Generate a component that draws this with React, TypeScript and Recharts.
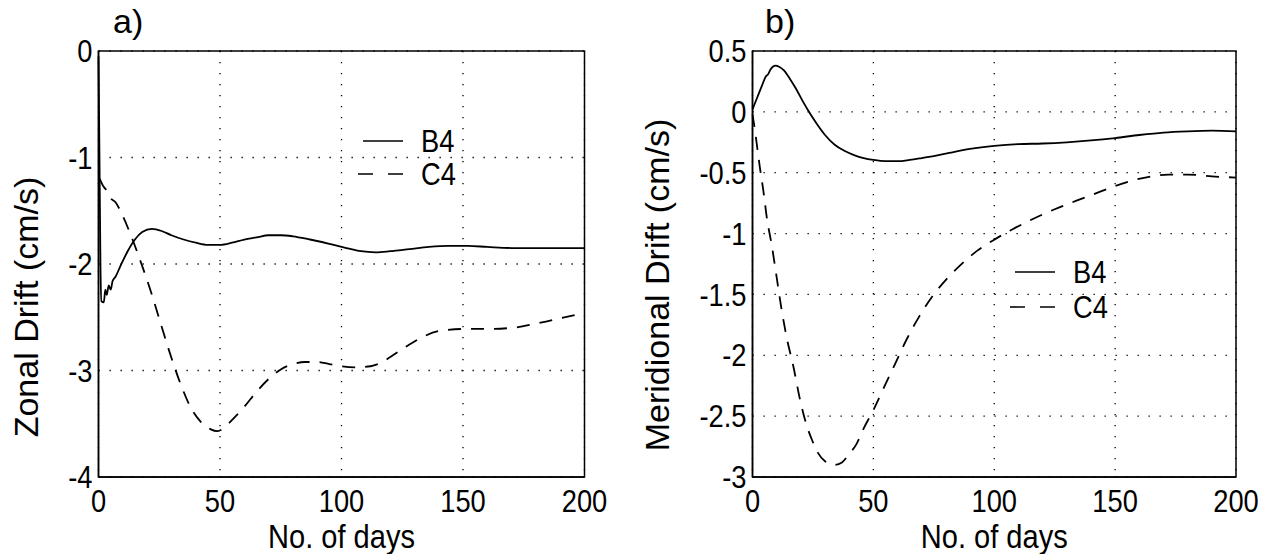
import React from "react";
import {
  CartesianGrid,
  Legend,
  Line,
  LineChart,
  ReferenceArea,
  XAxis,
  YAxis,
} from "recharts";

// panel a) zonal drift
const zonalB4Days = [0, 0.4, 0.8, 1.2, 2.2, 2.8, 3.4, 4.2, 5, 5.8, 7, 9, 12, 15, 18, 22, 26, 30, 35, 40, 45, 50, 55, 60, 65, 70, 75, 80, 87, 95, 102, 108, 114, 120, 128, 136, 144, 152, 160, 170, 180, 190, 200];
const zonalB4 = [-0.05, -1.0, -2.0, -2.35, -2.36, -2.24, -2.29, -2.2, -2.24, -2.16, -2.12, -2.02, -1.88, -1.77, -1.7, -1.67, -1.69, -1.73, -1.77, -1.8, -1.82, -1.82, -1.8, -1.77, -1.75, -1.73, -1.73, -1.74, -1.77, -1.81, -1.85, -1.88, -1.89, -1.88, -1.86, -1.84, -1.83, -1.83, -1.84, -1.85, -1.85, -1.85, -1.85];

const zonalC4Days = [0.5, 2, 4, 5, 7, 10, 14, 18, 22, 26, 30, 34, 38, 42, 46, 49, 52, 56, 60, 65, 70, 75, 80, 85, 90, 95, 100, 106, 112, 116, 121, 127, 133, 140, 150, 160, 170, 180, 190, 200];
const zonalC4 = [-1.2, -1.27, -1.33, -1.38, -1.42, -1.55, -1.77, -2.02, -2.29, -2.59, -2.88, -3.14, -3.35, -3.48, -3.55, -3.57, -3.53, -3.44, -3.34, -3.2, -3.08, -2.99, -2.94, -2.92, -2.92, -2.94, -2.96, -2.97, -2.96, -2.93, -2.86, -2.77, -2.69, -2.63, -2.61, -2.61, -2.6, -2.56, -2.51, -2.46];

// panel b) meridional drift
const meridB4Days = [0, 2, 4, 5.5, 6.5, 7.5, 9.5, 11, 13, 15.5, 18, 21, 24, 27, 30, 34, 38, 42, 46, 50, 55, 60, 65, 70, 76, 82, 90, 100, 110, 120, 130, 140, 150, 160, 170, 180, 190, 200];
const meridB4 = [0.02, 0.12, 0.22, 0.29, 0.31, 0.35, 0.38, 0.37, 0.34, 0.27, 0.19, 0.08, -0.02, -0.11, -0.19, -0.27, -0.32, -0.355, -0.38, -0.395, -0.405, -0.405, -0.395, -0.38, -0.36, -0.335, -0.305, -0.28, -0.265, -0.26, -0.25, -0.235, -0.215, -0.19, -0.17, -0.16, -0.155, -0.16];

const meridC4Days = [0, 1, 2, 3, 4.5, 6, 8, 10, 12, 14, 17, 19.5, 22, 24.5, 27, 30, 34, 37, 40, 43, 46, 50, 54, 59, 64, 69, 75, 80, 86, 93, 100, 108, 116, 125, 134, 142, 150, 158, 165, 172, 180, 190, 200];
const meridC4 = [-0.02, -0.15, -0.3, -0.45, -0.65, -0.88, -1.1, -1.36, -1.62, -1.84, -2.1, -2.35, -2.55, -2.69, -2.8, -2.87, -2.9, -2.88, -2.81, -2.73, -2.6, -2.45, -2.28, -2.07, -1.86, -1.68, -1.5, -1.38, -1.26, -1.14, -1.05, -0.96, -0.88, -0.8, -0.73, -0.67, -0.61, -0.56, -0.53, -0.515, -0.515, -0.53, -0.54];

const dayTicks = [0, 50, 100, 150, 200];
const zonalTicks = [0, -1, -2, -3, -4];
const meridTicks = [0.5, 0, -0.5, -1, -1.5, -2, -2.5, -3];

const seriesNames = ["B4", "C4"];
const c4Dash = "13 10";

const font = "'Liberation Sans', Arial, Helvetica, sans-serif";
const squeeze = 0.88; // the original type is a little narrow

const toPoints = (days: number[], vals: number[]) =>
  days.map((day, i) => ({ day, value: vals[i] }));

// text narrowed horizontally around its anchor point
function NarrowText({ x, y, anchor, dy, size, children }: any) {
  return (
    <text
      x={x}
      y={y}
      dy={dy}
      textAnchor={anchor}
      fontSize={size}
      fontFamily={font}
      fill="#000"
      transform={`translate(${x} 0) scale(${squeeze} 1) translate(${-x} 0)`}
    >
      {children}
    </text>
  );
}

const XTick = ({ x, y, payload }: any) => (
  <NarrowText x={x} y={y} anchor="middle" dy="0.71em" size={31}>
    {payload.value}
  </NarrowText>
);

const YTick = ({ x, y, payload }: any) => (
  <NarrowText x={x} y={y} anchor="end" dy="0.36em" size={31}>
    {payload.value}
  </NarrowText>
);

function DriftLegend({ gap }: { gap: number }) {
  return (
    <svg width={130} height={gap + 45}>
      {seriesNames.map((name, i) => {
        const y = 21 + i * gap;
        return (
          <g key={name}>
            <line
              x1={name === "C4" ? 3 : 8}
              x2={48}
              y1={y}
              y2={y}
              stroke="#000"
              strokeWidth={1.6}
              strokeDasharray={name === "C4" ? "15 15" : undefined}
            />
            <NarrowText x={66} y={y + 11} anchor="start" size={31}>
              {name}
            </NarrowText>
          </g>
        );
      })}
    </svg>
  );
}

function YTitle({ viewBox, text, cx, shift }: any) {
  const cy = viewBox.y + viewBox.height / 2 + shift;
  return (
    <text
      x={cx}
      y={cy}
      transform={`rotate(-90, ${cx}, ${cy})`}
      textAnchor="middle"
      fontSize={34}
      fontFamily={font}
      fill="#000"
    >
      {text}
    </text>
  );
}

function XTitle({ viewBox }: any) {
  const cx = viewBox.x + viewBox.width / 2;
  return (
    <NarrowText x={cx} y={viewBox.y + 71} anchor="middle" size={33}>
      No. of days
    </NarrowText>
  );
}

type PanelProps = {
  b4: { day: number; value: number }[];
  c4: { day: number; value: number }[];
  width: number;
  yTicks: number[];
  yDomain: [number, number];
  yWidth: number;
  rightMargin: number;
  yTitle: string;
  titleX: number;
  titleShift: number;
  legendLeft: number;
  legendTop: number;
  legendGap: number;
};

function Panel(p: PanelProps) {
  return (
    <LineChart
      width={p.width}
      height={554}
      margin={{ top: 51, right: p.rightMargin, bottom: 0, left: 0 }}
    >
      <CartesianGrid stroke="#000" strokeDasharray="1.3 9.7" strokeWidth={1.3} />
      <XAxis
        type="number"
        dataKey="day"
        domain={[0, 200]}
        ticks={dayTicks}
        height={77}
        tick={<XTick />}
        tickLine={false}
        tickSize={0}
        tickMargin={13}
        axisLine={{ stroke: "#000", strokeWidth: 1.5 }}
        label={{ content: (props: any) => <XTitle viewBox={props.viewBox} /> }}
      />
      <YAxis
        type="number"
        domain={p.yDomain}
        ticks={p.yTicks}
        width={p.yWidth}
        tick={<YTick />}
        tickLine={false}
        tickSize={0}
        tickMargin={6}
        interval={0}
        axisLine={{ stroke: "#000", strokeWidth: 1.5 }}
        label={{
          content: (props: any) => (
            <YTitle
              viewBox={props.viewBox}
              text={p.yTitle}
              cx={p.titleX}
              shift={p.titleShift}
            />
          ),
        }}
      />
      <ReferenceArea
        x1={0}
        x2={200}
        y1={p.yDomain[0]}
        y2={p.yDomain[1]}
        fill="none"
        stroke="#000"
        strokeWidth={1.5}
      />
      <Legend
        layout="vertical"
        align="center"
        verticalAlign="middle"
        content={<DriftLegend gap={p.legendGap} />}
        wrapperStyle={{ left: p.legendLeft, top: p.legendTop, width: 130 }}
      />
      <Line
        name="B4"
        data={p.b4}
        dataKey="value"
        type="monotone"
        stroke="#000"
        strokeWidth={1.8}
        dot={false}
        isAnimationActive={false}
      />
      <Line
        name="C4"
        data={p.c4}
        dataKey="value"
        type="monotone"
        stroke="#000"
        strokeWidth={1.8}
        strokeDasharray={c4Dash}
        dot={false}
        isAnimationActive={false}
      />
    </LineChart>
  );
}

export default function App() {
  const panelLabel = {
    position: "absolute" as const,
    top: 4,
    fontSize: 34,
    lineHeight: "34px",
    fontFamily: font,
    color: "#000",
  };
  return (
    <div
      style={{
        position: "absolute",
        left: 0,
        top: 0,
        width: 1264,
        height: 554,
        background: "#fff",
        overflow: "hidden",
      }}
    >
      <div style={{ position: "absolute", left: 0, top: 0 }}>
        <Panel
          b4={toPoints(zonalB4Days, zonalB4)}
          c4={toPoints(zonalC4Days, zonalC4)}
          width={620}
          yTicks={zonalTicks}
          yDomain={[-4, 0]}
          yWidth={98.5}
          rightMargin={35.5}
          yTitle="Zonal Drift (cm/s)"
          titleX={38}
          titleShift={43}
          legendLeft={355}
          legendTop={120}
          legendGap={33}
        />
      </div>
      <div style={{ position: "absolute", left: 620, top: 0 }}>
        <Panel
          b4={toPoints(meridB4Days, meridB4)}
          c4={toPoints(meridC4Days, meridC4)}
          width={644}
          yTicks={meridTicks}
          yDomain={[-3, 0.5]}
          yWidth={132.5}
          rightMargin={28}
          yTitle="Meridional Drift (cm/s)"
          titleX={49}
          titleShift={21}
          legendLeft={387}
          legendTop={251}
          legendGap={35}
        />
      </div>
      <div style={{ ...panelLabel, left: 113 }}>a)</div>
      <div style={{ ...panelLabel, left: 765 }}>b)</div>
    </div>
  );
}
